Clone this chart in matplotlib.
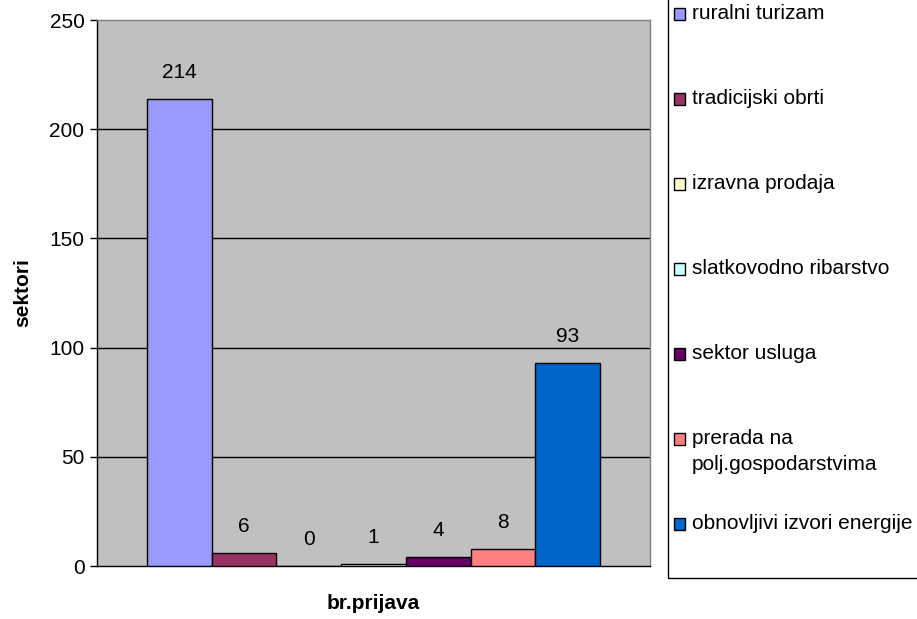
import matplotlib
matplotlib.use("Agg")
import matplotlib.pyplot as plt
from matplotlib.patches import Rectangle

categories = ["ruralni turizam", "tradicijski obrti", "izravna prodaja",
              "slatkovodno ribarstvo", "sektor usluga",
              "prerada na\npolj.gospodarstvima", "obnovljivi izvori energije"]
values = [214, 6, 0, 1, 4, 8, 93]
colors = ["#9999FF", "#993366", "#FFFFCC", "#CCFFFF", "#660066", "#FF8080", "#0066CC"]
yticks = [0, 50, 100, 150, 200, 250]

plt.rcParams['font.family'] = ['Liberation Sans', 'DejaVu Sans']
FS = 15
W, H = 917, 619
fig = plt.figure(figsize=(W / 100, H / 100), dpi=100)
ax = fig.add_axes([97 / W, 1 - 566 / H, (650 - 97) / W, (566 - 20) / H])
ax.set_facecolor("#C0C0C0")

xs = list(range(len(values)))
bars = ax.bar(xs, values, width=1.0, color=colors, edgecolor="black", linewidth=1.0, zorder=3)
for x, v in zip(xs, values):
    ax.annotate(str(v), (x, v), xytext=(0, 19), textcoords="offset points",
                ha="center", va="center", fontsize=FS, zorder=4)

ax.set_ylim(0, 250)
ax.set_xlim(-1.273, 7.273)
ax.set_yticks(yticks)
ax.set_xticks([])
ax.tick_params(axis="y", direction="out", length=5, width=1, labelsize=FS, pad=4)
for y in yticks[1:-1]:
    ax.axhline(y, color="black", lw=1, zorder=1)
ax.spines["left"].set_color("black")
ax.spines["bottom"].set_color("black")
ax.spines["top"].set_color("#808080")
ax.spines["right"].set_color("#808080")
for s in ax.spines.values():
    s.set_linewidth(1)
ax.set_ylabel("sektori", fontsize=FS, fontweight="bold", labelpad=12)
ax.set_xlabel("br.prijava", fontsize=FS, fontweight="bold", labelpad=20)

# legend box
fig.patches.append(Rectangle((668 / W, 1 - 578 / H), (W + 10 - 668) / W, 578 / H + 0.05,
                             transform=fig.transFigure, facecolor="white",
                             edgecolor="black", lw=1, zorder=0))
y0, step = 14, 85.0
for i, (lab, c) in enumerate(zip(categories, colors)):
    yc = y0 + i * step
    fig.patches.append(Rectangle((674 / W, 1 - (yc + 6) / H), 11 / W, 12 / H,
                                 transform=fig.transFigure, facecolor=c,
                                 edgecolor="black", lw=1, zorder=2))
    fig.text(692 / W, 1 - (yc - 10) / H, lab, fontsize=FS, va="top", ha="left",
             linespacing=1.45)

fig.savefig("out.png", dpi=100)
